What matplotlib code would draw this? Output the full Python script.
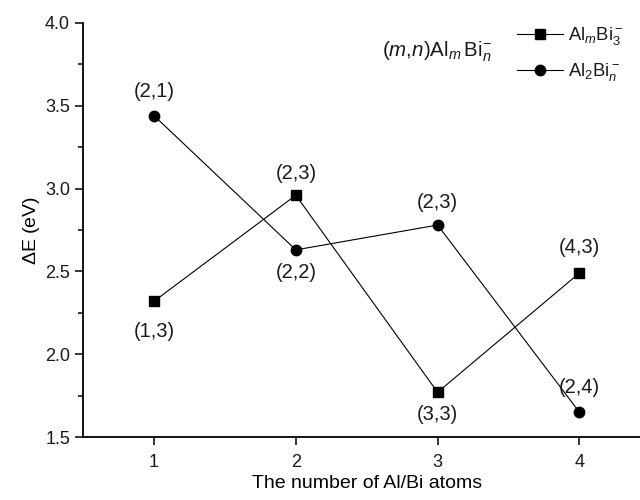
import matplotlib
matplotlib.use('Agg')
import matplotlib.pyplot as plt
from matplotlib.ticker import MultipleLocator, FormatStrFormatter

plt.rcParams['font.family'] = ['Liberation Sans', 'DejaVu Sans']
plt.rcParams['mathtext.fontset'] = 'custom'
plt.rcParams['mathtext.rm'] = 'Liberation Sans'
plt.rcParams['mathtext.it'] = 'Liberation Sans:italic'
plt.rcParams['text.color'] = '#1a1a1a'

# data
atoms = [1, 2, 3, 4]
almbi3 = [2.32, 2.96, 1.77, 2.49]
al2bin = [3.44, 2.63, 2.78, 1.65]
almbi3_labels = ['(1,3)', '(2,3)', '(3,3)', '(4,3)']
al2bin_labels = ['(2,1)', '(2,2)', '(2,3)', '(2,4)']
# label above (+) or below (-) the point
almbi3_side = [-1.35, 1, -1, 1.15]
al2bin_side = [1.1, -1, 1, 1.1]

fig = plt.figure(figsize=(6.4, 5), dpi=100)
ax = fig.add_axes([0.13, 0.126, 0.886, 0.828])

ax.plot(atoms, almbi3, '-s', color='black', lw=0.8, ms=6.5, label=r'Al$_m$Bi$_3^-$')
ax.plot(atoms, al2bin, '-o', color='black', lw=0.8, ms=7.5, label=r'Al$_2$Bi$_n^-$')

for x, y, t, s in zip(atoms, almbi3, almbi3_labels, almbi3_side):
    ax.annotate(t, (x, y), xytext=(0, 16 * s), textcoords='offset points',
                ha='center', va='center', fontsize=14.5)
for x, y, t, s in zip(atoms, al2bin, al2bin_labels, al2bin_side):
    ax.annotate(t, (x, y), xytext=(0, 16 * s), textcoords='offset points',
                ha='center', va='center', fontsize=14.5)

ax.set_xlim(0.5, 4.5)
ax.set_ylim(1.5, 4.0)
ax.set_xticks(atoms)
ax.yaxis.set_major_locator(MultipleLocator(0.5))
ax.yaxis.set_minor_locator(MultipleLocator(0.25))
ax.yaxis.set_major_formatter(FormatStrFormatter('%.1f'))
ax.tick_params(axis='both', which='major', direction='out', length=6, width=1.1,
               labelsize=13, labelcolor='#1a1a1a')
ax.tick_params(axis='x', which='major', pad=6)
ax.tick_params(axis='y', which='minor', direction='out', length=3.5, width=1.1)
for side in ['top', 'right']:
    ax.spines[side].set_visible(False)
for side in ['left', 'bottom']:
    ax.spines[side].set_linewidth(1.3)

ax.set_xlabel('The number of Al/Bi atoms', fontsize=14, labelpad=3)
ax.set_ylabel(r'$\Delta$E (eV)', fontsize=14, labelpad=2)

ax.legend(loc='center left', bbox_to_anchor=(0.735, 0.925), frameon=False, fontsize=13.3,
          handlelength=2.5, handletextpad=0.3, labelspacing=0.75)
fig.text(0.597, 0.896, r'($m$,$n$)Al$_{m}\,$Bi$_{n}^{-}$', fontsize=14.8, ha='left', va='center')

fig.savefig('out.png', dpi=100)
